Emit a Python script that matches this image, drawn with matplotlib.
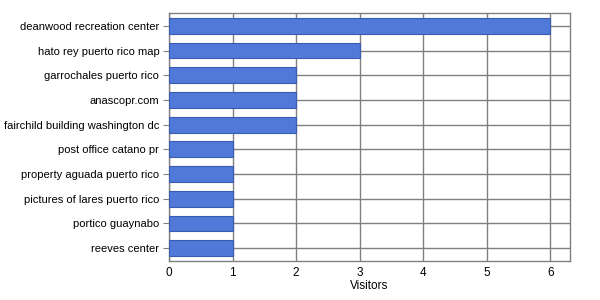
import matplotlib
matplotlib.use('Agg')
import matplotlib.pyplot as plt
import numpy as np

terms = ['deanwood recreation center', 'hato rey puerto rico map', 'garrochales puerto rico',
         'anascopr.com', 'fairchild building washington dc', 'post office catano pr',
         'property aguada puerto rico', 'pictures of lares puerto rico', 'portico guaynabo',
         'reeves center']
visitors = [6, 3, 2, 2, 2, 1, 1, 1, 1, 1]
xticks = [0, 1, 2, 3, 4, 5, 6]

plt.rcParams['font.family'] = ['Liberation Sans', 'DejaVu Sans']
fig = plt.figure(figsize=(6, 3), dpi=100)
ax = fig.add_axes([169 / 600, 1 - 261 / 300, 401 / 600, 248 / 300])

y = np.arange(len(terms))
ax.barh(y, visitors, height=0.64, color='#5079d8', edgecolor='#3a5bb0', linewidth=0.8, zorder=3)

ax.set_xlim(0, 6.31)
ax.set_ylim(len(terms) - 0.48, -0.52)
ax.set_xticks(xticks)
ax.set_yticks(y)
ax.set_yticklabels(terms, fontsize=8)
ax.tick_params(axis='x', labelsize=8.5, length=0, pad=4)
ax.tick_params(axis='y', length=4, width=0.8, color='#808080', pad=3)
ax.set_xlabel('Visitors', fontsize=8.5, labelpad=1)

ax.grid(True, color='#808080', linewidth=1, zorder=0)
ax.set_axisbelow(True)
for s in ax.spines.values():
    s.set_color('#808080')
    s.set_linewidth(1)

fig.savefig('out.png', dpi=100)
